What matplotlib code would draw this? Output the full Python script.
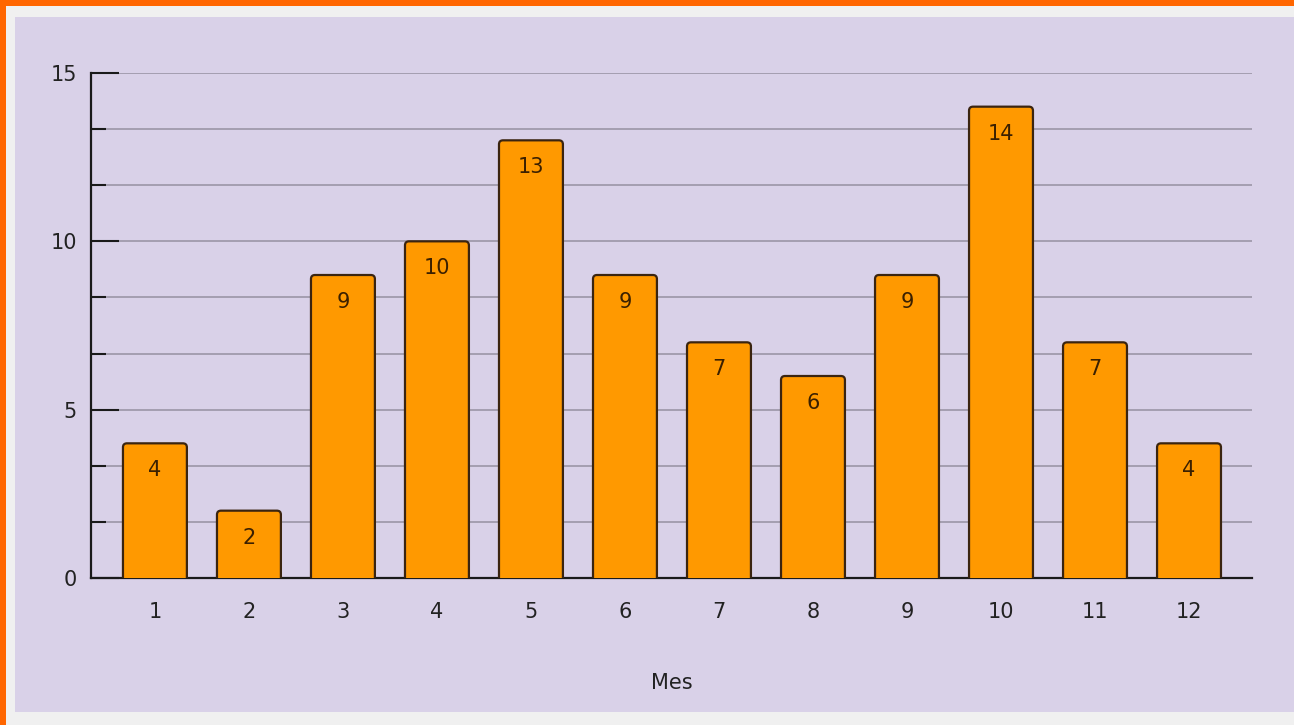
import matplotlib.pyplot as plt
from matplotlib.patches import FancyBboxPatch, Rectangle

# Data
months = [1, 2, 3, 4, 5, 6, 7, 8, 9, 10, 11, 12]
counts = [4, 2, 9, 10, 13, 9, 7, 6, 9, 14, 7, 4]
x_title = 'Mes'

bar_color = '#ff9900'
edge_color = '#3a2410'
panel_color = '#d9d1e8'

W, H = 1294, 725
fig = plt.figure(figsize=(W / 100, H / 100), dpi=100, facecolor='#f0f0f0')

# Frame around the chart: orange border lines and the lavender panel.
fig.patches.append(Rectangle((15 / W, 13 / H), 1 - 15 / W, (712 - 17) / H,
                             transform=fig.transFigure, fc=panel_color, ec='none', zorder=-3))
fig.patches.append(Rectangle((0, 0), 6 / W, 1, transform=fig.transFigure,
                             fc='#ff6600', ec='none', zorder=-2))
fig.patches.append(Rectangle((0, 1 - 6 / H), 1, 6 / H, transform=fig.transFigure,
                             fc='#ff6600', ec='none', zorder=-2))

ax = fig.add_axes([91 / W, 1 - 578 / H, (1252 - 91) / W, (578 - 73) / H])
ax.set_facecolor('none')

bar_w = 0.68
ax.set_xlim(1 - 0.68, 12 + 0.67)
ax.set_ylim(0, 15)

# Rounded top corners: radius ~4 px in both directions.
x_px = (1252 - 91) / (12.67 - 0.32)
y_px = (578 - 73) / 15
r = 4 / x_px
aspect = x_px / y_px

for m, c in zip(months, counts):
    box = FancyBboxPatch((m - bar_w / 2, -1), bar_w, c + 1,
                         boxstyle=f'round,pad=0,rounding_size={r}',
                         mutation_aspect=aspect, fc=bar_color, ec=edge_color,
                         lw=1.6, zorder=3)
    ax.add_patch(box)
    ax.annotate(str(c), (m, c), xytext=(0, -19.5), textcoords='offset points',
                ha='center', va='center', fontsize=15, color='#3b2000', zorder=4)

# Grid lines every 5/3 units, ticks drawn inward
minor = [i * 5 / 3 for i in range(10)]
for y in minor[1:]:
    ax.axhline(y, color='#9b95a6', lw=1.2, zorder=1)

ax.set_yticks([0, 5, 10, 15])
ax.set_yticks(minor, minor=True)
ax.tick_params(axis='y', which='major', direction='in', length=20, width=1.5,
               color='#1a1a1a', pad=10, labelsize=15, labelcolor='#222222')
ax.tick_params(axis='y', which='minor', direction='in', length=11, width=1.5,
               color='#1a1a1a')
ax.set_xticks(months)
ax.tick_params(axis='x', length=0, pad=17, labelsize=15, labelcolor='#222222')

for side in ['top', 'right']:
    ax.spines[side].set_visible(False)
ax.spines['left'].set_linewidth(1.6)
ax.spines['left'].set_color('#1a1a1a')
ax.spines['bottom'].set_linewidth(1.6)
ax.spines['bottom'].set_color('#1a1a1a')
ax.spines['bottom'].set_zorder(2)

ax.set_xlabel(x_title, fontsize=15, color='#222222')
ax.xaxis.set_label_coords(0.5, -0.208)
ax.xaxis.label.set_va('center')

fig.savefig('out.png', dpi=100, facecolor=fig.get_facecolor())
